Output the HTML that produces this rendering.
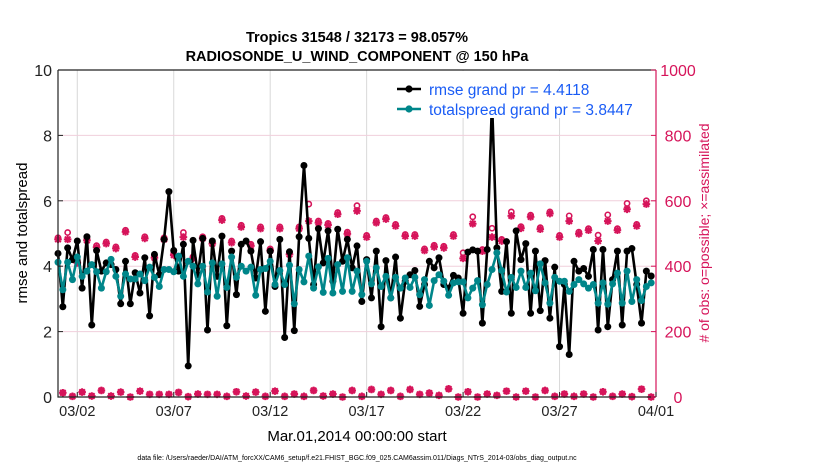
<!DOCTYPE html>
<html><head><meta charset="utf-8"><style>
body{margin:0;background:#fff;}
svg{display:block;font-family:"Liberation Sans",sans-serif;}
</style></head><body>
<svg id="chart" width="830" height="470" viewBox="0 0 830 470">
<text x="357" y="42" text-anchor="middle" font-size="14.5" font-weight="bold">Tropics 31548 / 32173 = 98.057%</text>
<text x="357" y="61" text-anchor="middle" font-size="14.5" font-weight="bold">RADIOSONDE_U_WIND_COMPONENT @ 150 hPa</text>
<g id="grid"></g>
<g id="marks"></g>
<g id="axes"></g>
<g>
<rect x="386" y="71" width="268" height="47" fill="#fff"/>
<g>
<line x1="397" y1="89" x2="421" y2="89" stroke="#000" stroke-width="2.5"/><circle cx="409" cy="89" r="3.6" fill="#000"/>
<text x="429" y="95" font-size="15.5" fill="#1a5cf5">rmse grand pr = 4.4118</text></g>
<g>
<line x1="397" y1="109" x2="421" y2="109" stroke="#00868a" stroke-width="2.5"/><circle cx="409" cy="109" r="3.6" fill="#00868a"/>
<text x="429" y="115" font-size="15.5" fill="#1a5cf5">totalspread grand pr = 3.8447</text></g>
</g>
<text transform="translate(27,233) rotate(-90)" text-anchor="middle" font-size="15">rmse and totalspread</text>
<text transform="translate(709,233) rotate(-90)" text-anchor="middle" font-size="14" fill="#d6145a"># of obs: o=possible; ×=assimilated</text>
<text x="357" y="441" text-anchor="middle" font-size="15">Mar.01,2014 00:00:00 start</text>
<text x="357" y="460" text-anchor="middle" font-size="7">data file: /Users/raeder/DAI/ATM_forcXX/CAM6_setup/f.e21.FHIST_BGC.f09_025.CAM6assim.011/Diags_NTrS_2014-03/obs_diag_output.nc</text>
</svg>
<script>
const xTickLabels=["03/02","03/07","03/12","03/17","03/22","03/27","04/01"];
const xTickDays=[1,6,11,16,21,26,31];
const leftTicks=[0,2,4,6,8,10];
const rightTicks=[0,200,400,600,800,1000];
const rmse=[4.39,2.76,4.56,4.2,4.77,3.33,4.9,2.2,4.48,3.85,4.1,4.05,3.9,2.85,4.15,2.85,3.8,3.18,4.26,2.48,4.36,3.74,4.82,6.28,4.48,3.85,4.67,0.95,4.79,3.74,4.85,2.05,4.77,3.69,4.92,2.18,4.46,3.13,4.67,4.77,4.46,3.64,4.75,2.62,4.46,3.38,4.82,1.82,4.44,2.03,4.9,7.08,4.85,3.44,5.15,4.1,5.08,3.54,5.13,
4.15,4.82,3.95,4.62,2.92,4.2,3.03,4.46,2.15,4.17,3.03,4.28,2.41,3.54,3.74,3.87,2.77,3.44,4.15,3.95,4.26,3.44,3.33,3.72,3.64,2.56,4.43,4.5,4.46,2.26,4.51,9.05,4.56,3.23,4.75,2.56,5.08,4.2,4.69,2.56,4.46,2.64,4.17,2.41,3.97,1.54,3.44,1.3,4.15,3.85,3.93,3.69,4.51,2.05,4.51,2.15,3.59,4.46,2.2,4.46,4.54,3.44,2.26,3.85,3.7];
const spread=[4.12,3.28,4.12,3.59,4.28,3.69,3.85,4.05,3.83,3.33,3.83,4.21,3.69,3.08,3.76,3.61,3.61,3.76,3.56,3.97,3.66,3.38,3.9,3.9,3.83,4.31,3.69,4.15,4.0,3.46,4.0,3.21,4.1,3.08,4.07,3.35,4.28,3.66,4.0,3.85,3.97,3.11,3.9,3.93,4.15,3.44,3.87,3.44,4.03,2.85,3.9,3.52,4.31,3.33,3.98,3.2,4.24,3.18,4.05,
3.23,4.26,3.23,3.85,3.13,4.15,3.46,3.95,3.38,3.69,3.03,3.66,3.33,3.64,3.35,3.66,3.13,3.59,2.8,3.56,3.74,3.54,3.11,3.49,3.52,3.52,3.03,3.33,3.56,2.82,3.44,3.9,4.41,3.87,3.21,3.66,3.35,3.85,3.35,3.79,3.25,4.07,3.49,2.87,3.66,3.54,3.54,3.23,3.44,3.59,3.46,3.33,3.44,2.87,3.49,2.84,3.46,3.79,2.87,3.85,2.92,3.59,2.95,3.38,3.49];
const assimMain=[482,482,410,479,458,469,454,505,428,485,426,482,434,489,424,485,469,541,472,520,462,515,448,515,436,515,538,533,526,559,499,569,489,533,544,523,492,492,448,459,456,492,424,530,446,489,477,554,516,551,513,561,489,538,499,510,477,538,510,574,523,590];
const possMain=[487,503,415,484,463,474,459,510,433,490,431,487,439,503,429,490,474,546,477,525,467,520,453,520,441,520,590,538,531,564,504,585,494,538,549,528,497,497,453,464,461,497,441,551,451,516,482,566,521,556,518,566,494,554,504,515,495,557,515,592,528,600];
const assimOff=[13,2,15,3,20,3,15,0,18,8,8,8,14,1,9,8,8,2,16,3,15,2,18,2,9,2,20,3,9,0,20,2,23,8,20,2,23,8,12,5,25,0,16,0,9,5,18,0,18,0,20,2,9,2,9,0,16,2,9,1,24,0];
const possOff=[13,2,15,3,20,3,15,0,18,8,8,8,14,1,9,8,8,2,16,3,15,2,18,2,9,2,20,3,9,0,20,2,23,8,20,2,23,8,12,5,25,0,16,0,9,5,18,0,18,0,20,2,9,2,9,0,16,2,9,1,24,0];

const X0=58,X1=656,Y0=397,Y1=70,NDAYS=31;
const xScale=d=>X0+(d/NDAYS)*(X1-X0);
const yL=v=>Y0-(v/10)*(Y0-Y1);
const yR=v=>Y0-(v/1000)*(Y0-Y1);
const NS="http://www.w3.org/2000/svg";
function mk(tag,attrs,parent){const e=document.createElementNS(NS,tag);for(const k in attrs)e.setAttribute(k,attrs[k]);parent.appendChild(e);return e;}
const grid=document.getElementById('grid'),marks=document.getElementById('marks'),axes=document.getElementById('axes');
const PINK="#d6145a",TEAL="#00868a";
xTickDays.forEach((d,i)=>{const g=mk('line',{x1:xScale(d),x2:xScale(d),y1:Y1,y2:Y0,stroke:'#d8d8d8','stroke-width':1},grid);

});
leftTicks.forEach(v=>{if(v===0||v===10)return;const g=mk('line',{x1:X0,x2:X1,y1:yL(v),y2:yL(v),stroke:'#f0cfdc','stroke-width':1},grid);

});
const xi=i=>xScale(i*0.25);
function obsMark(i,poss,assim){
  const x=xi(i);
  const c=mk('circle',{cx:x,cy:yR(poss),r:2.6,fill:'none',stroke:PINK,'stroke-width':1.6},marks);
  
  
  const y=yR(assim);
  const p=mk('path',{d:`M${x-3.8} ${y}H${x+3.8}M${x} ${y-3.8}V${y+3.8}M${x-2.8} ${y-2.8}L${x+2.8} ${y+2.8}M${x-2.8} ${y+2.8}L${x+2.8} ${y-2.8}`,stroke:PINK,'stroke-width':2},marks);
  
  
}
for(let k=0;k<assimMain.length;k++)obsMark(2*k,possMain[k],assimMain[k]);
for(let k=0;k<assimOff.length;k++)obsMark(2*k+1,possOff[k],assimOff[k]);
function series(vals,color,name){
  const pts=vals.map((v,i)=>xi(i).toFixed(1)+','+yL(v).toFixed(1)).join(' ');
  const l=mk('polyline',{points:pts,fill:'none',stroke:color,'stroke-width':2.6,'stroke-linejoin':'round'},marks);
  
  
  vals.forEach((v,i)=>{const c=mk('circle',{cx:xi(i),cy:yL(v),r:3.5,fill:color},marks);
  
  });
}
series(rmse,'#000','rmse');
series(spread,TEAL,'totalspread');
let a=mk('path',{d:`M${X0} ${Y1}H${X1}M${X0} ${Y1}V${Y0}H${X1}`,stroke:'#222','stroke-width':1.2,fill:'none'},axes);


a=mk('line',{x1:X1,x2:X1,y1:Y1,y2:Y0,stroke:PINK,'stroke-width':1.2},axes);


leftTicks.forEach(v=>{const t=mk('text',{x:X0-6,y:yL(v)+6,'text-anchor':'end','font-size':16,fill:'#222'},axes);t.textContent=v;


mk('line',{x1:X0,x2:X0+5,y1:yL(v),y2:yL(v),stroke:'#222'},axes);});
rightTicks.forEach(v=>{const t=mk('text',{x:X1+22,y:yR(v)+6,'text-anchor':'middle','font-size':16,fill:PINK},axes);t.textContent=v;


mk('line',{x1:X1-5,x2:X1,y1:yR(v),y2:yR(v),stroke:PINK},axes);});
xTickDays.forEach((d,i)=>{const t=mk('text',{x:xScale(d),y:Y0+19,'text-anchor':'middle','font-size':14.5,fill:'#222'},axes);t.textContent=xTickLabels[i];


mk('line',{x1:xScale(d),x2:xScale(d),y1:Y0,y2:Y0-5,stroke:'#222'},axes);});
</script>
</body></html>
